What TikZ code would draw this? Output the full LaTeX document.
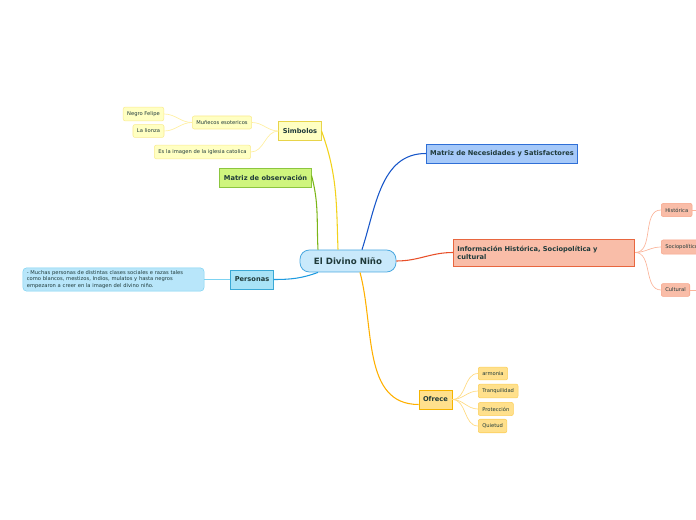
\documentclass[tikz,border=0pt]{standalone}
\usepackage{fontspec}
\setmainfont{DejaVu Sans}
\usetikzlibrary{positioning,calc}
\definecolor{cInk}{HTML}{1F3A3A}
\definecolor{cRootF}{HTML}{C9E9FB}
\definecolor{cRootD}{HTML}{4AA8E0}
\definecolor{cSymF}{HTML}{FFFFC2}
\definecolor{cSymD}{HTML}{E8D44A}
\definecolor{cSymL}{HTML}{F2D21B}
\definecolor{cSymC}{HTML}{FFEFA0}
\definecolor{cObsF}{HTML}{CFF57E}
\definecolor{cObsD}{HTML}{8CC63F}
\definecolor{cObsL}{HTML}{7CB518}
\definecolor{cPerF}{HTML}{A8E3F7}
\definecolor{cPerD}{HTML}{3AA9D6}
\definecolor{cPerL}{HTML}{1E9BE0}
\definecolor{cDescF}{HTML}{B8E6FA}
\definecolor{cDescD}{HTML}{7DD3F2}
\definecolor{cNecF}{HTML}{A6C9F9}
\definecolor{cNecD}{HTML}{2F6FD6}
\definecolor{cNecL}{HTML}{1756C9}
\definecolor{cInfF}{HTML}{F9BDA8}
\definecolor{cInfD}{HTML}{E8663F}
\definecolor{cInfL}{HTML}{E8502A}
\definecolor{cInfC}{HTML}{FBB49A}
\definecolor{cOfrF}{HTML}{FFE08C}
\definecolor{cOfrD}{HTML}{F5B400}
\definecolor{cOfrL}{HTML}{FFB000}
\definecolor{cOfrC}{HTML}{FFDA80}
\tikzset{
  root/.style  ={draw=cRootD, fill=cRootF, rounded corners=7pt, line width=0.6pt,
                 font=\fontsize{6.5}{7.5}\selectfont\bfseries, text=cInk,
                 minimum width=72pt, minimum height=16.5pt},
  branch/.style={draw, line width=0.6pt, font=\fontsize{5}{6}\selectfont\bfseries, text=cInk,
                 minimum height=14.25pt, inner xsep=3pt},
  leaf/.style  ={draw, rounded corners=1.5pt, line width=0.4pt,
                 font=\fontsize{3.9}{4.9}\selectfont, text=cInk,
                 minimum height=9.2pt, inner xsep=3pt},
  sym/.style ={branch, fill=cSymF, draw=cSymD},
  obs/.style ={branch, fill=cObsF, draw=cObsD},
  per/.style ={branch, fill=cPerF, draw=cPerD},
  nec/.style ={branch, fill=cNecF, draw=cNecD},
  inf/.style ={branch, fill=cInfF, draw=cInfD},
  ofr/.style ={branch, fill=cOfrF, draw=cOfrD},
  symleaf/.style={leaf, fill=cSymF, draw=cSymC!80!cSymD},
  infleaf/.style={leaf, fill=cInfF, draw=cInfC!80!cInfD},
  ofrleaf/.style={leaf, fill=cOfrF, draw=cOfrC!70!cOfrD},
  link/.style={line width=0.8pt},
  twig/.style={line width=0.5pt},
}
\begin{document}
\begin{tikzpicture}[x=0.75pt,y=-0.75pt]
  \useasboundingbox (0,0) rectangle (696,520);
  % centre
  \node[root] (root) at (348,261) {El Divino Niño};
  % main topics
  \node[sym] (sym) at (300,131) {Simbolos};
  \node[obs] (obs) at (265.5,177.5) {Matriz de observación};
  \node[per] (per) at (252,279.5) {Personas};
  \node[nec] (nec) at (502,153.5) {Matriz de Necesidades y Satisfactores};
  \node[inf, text width=130pt, align=left, minimum height=20.25pt] (inf) at (544,252.5)
        {Información Histórica, Sociopolítica y\\cultural};
  \node[ofr] (ofr) at (435.5,399.5) {Ofrece};
  % subtopics
  \node[symleaf] (mun) at (222,122.5) {Muñecos esotericos};
  \node[symleaf] (neg) at (143.5,114) {Negro Felipe};
  \node[symleaf] (lio) at (148.5,131) {La lionza};
  \node[symleaf] (img) at (202.5,152) {Es la imagen de la iglesia catolica};
  \node[leaf, fill=cDescF, draw=cDescD, rounded corners=3pt, text width=130pt, align=left,
        inner ysep=2pt] (desc) at (113.5,279.5)
        {- Muchas personas de distintas clases sociales e razas tales\\como blancos, mestizos, Indios, mulatos y hasta negros\\empezaron a creer en la imagen del divino niño.};
  \node[infleaf, anchor=west] (his) at (661,210) {Histórica};
  \node[infleaf, anchor=west] (soc) at (661,247) {Sociopolítico};
  \node[infleaf, anchor=west] (cul) at (661,290) {Cultural};
  \node[ofrleaf, anchor=west] (arm) at (478,373.5) {armonia};
  \node[ofrleaf, anchor=west] (tra) at (478,391) {Tranquilidad};
  \node[ofrleaf, anchor=west] (pro) at (478,409) {Protección};
  \node[ofrleaf, anchor=west] (qui) at (478,426) {Quietud};
  \coordinate (hisOut) at (706,210);
  \coordinate (culOut) at (706,290);
  % branches
  \draw[link, cSymL] ($(root.north)+(-10,0)$) to[out=92,in=-70] (sym.east);
  \draw[link, cObsL] ($(obs.east)+(0,-2)$) to[out=-75,in=93] ($(root.north)+(-30,0)$);
  \draw[link, cPerL] ($(root.south)+(-30,0)$) to[out=200,in=0] (per.east);
  \draw[link, cNecL] ($(root.north)+(14,0)$) to[out=72,in=180] (nec.west);
  \draw[link, cInfL] (root.east) to[out=0,in=180] (inf.west);
  \draw[link, cOfrL] ($(root.south)+(12,0)$) to[out=-75,in=180] ($(ofr.west)+(0,5)$);
  % twigs
  \draw[twig, cDescD] (per.west) -- (desc.east);
  \draw[twig, cSymC] (sym.west) to[out=180,in=0] (mun.east);
  \draw[twig, cSymC] (sym.west) to[out=180,in=0] (img.east);
  \draw[twig, cSymC] (mun.west) to[out=180,in=0] (neg.east);
  \draw[twig, cSymC] (mun.west) to[out=180,in=0] (lio.east);
  \draw[twig, cInfC] (inf.east) to[out=0,in=180] (his.west);
  \draw[twig, cInfC] (inf.east) to[out=0,in=180] (soc.west);
  \draw[twig, cInfC] (inf.east) to[out=0,in=180] (cul.west);
  \draw[twig, cInfC] (his.east) -- (hisOut);
  \draw[twig, cInfC] (cul.east) -- (culOut);
  \draw[twig, cOfrC] (ofr.east) to[out=0,in=180] (arm.west);
  \draw[twig, cOfrC] (ofr.east) to[out=0,in=180] (tra.west);
  \draw[twig, cOfrC] (ofr.east) to[out=0,in=180] (pro.west);
  \draw[twig, cOfrC] (ofr.east) to[out=0,in=180] (qui.west);
\end{tikzpicture}
\end{document}
